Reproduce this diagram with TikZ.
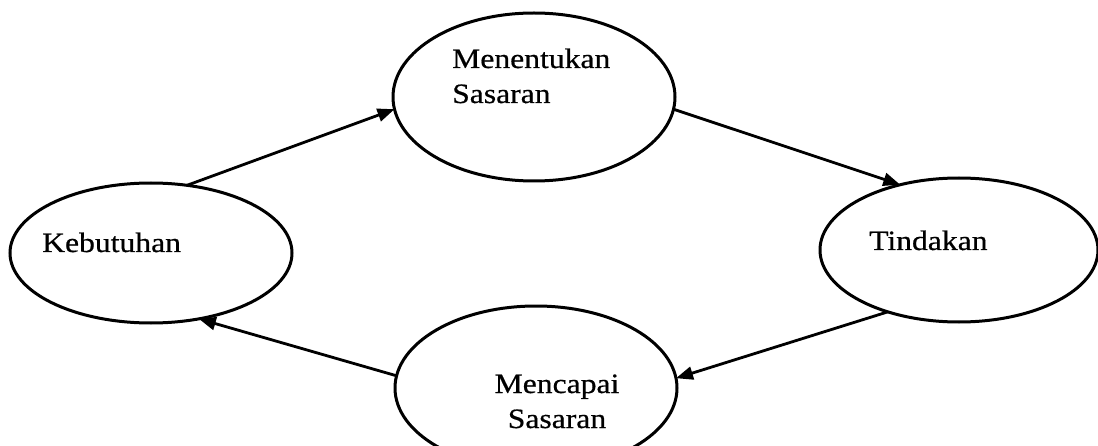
\documentclass[tikz,border=0pt]{standalone}
\usepackage{fontspec}
\setmainfont{Liberation Serif}
\newfontfamily\labfont[FakeStretch=1.13,FakeBold=0.6]{Liberation Serif}
\usetikzlibrary{shapes.geometric,arrows.meta}
\tikzset{
  ell/.style={ellipse, draw, line width=3pt, inner sep=0pt, outer sep=0pt},
  lab/.style={inner sep=0pt, font=\labfont\fontsize{28pt}{35pt}\selectfont},
  conn/.style={line width=2.8pt, -{Triangle[length=17pt,width=13pt]}}
}
\begin{document}
\begin{tikzpicture}[x=1pt,y=1pt]
\useasboundingbox (0,0) rectangle (1098,445);
\node[ell, minimum width=282pt, minimum height=140pt] (K) at (151,192) {};
\node[ell, minimum width=282pt, minimum height=168pt] (M) at (534,348) {};
\node[ell, minimum width=278pt, minimum height=144pt] (T) at (959,195) {};
\node[ell, minimum width=282pt, minimum height=164pt] (C) at (536,57) {};
\node[lab, anchor=base west] (Mt1) at (452,377) {Menentukan};
\node[lab, anchor=base west] (Mt2) at (452,342) {Sasaran};
\node[lab, anchor=base west] (Kt) at (42,193) {Kebutuhan};
\node[lab, anchor=base west] (Tt) at (869,195) {Tindakan};
\node[lab, anchor=base] (Ct1) at (557,52) {Mencapai};
\node[lab, anchor=base] (Ct2) at (557,17) {Sasaran};
\draw[conn] (K.62.8) -- (M.185.7);
\draw[conn] (M.355.6) -- (T.132.4);
\draw[conn] (T.221.2) -- (C.4.5);
\draw[conn] (C.175.6) -- (K.306.6);
\end{tikzpicture}
\end{document}
